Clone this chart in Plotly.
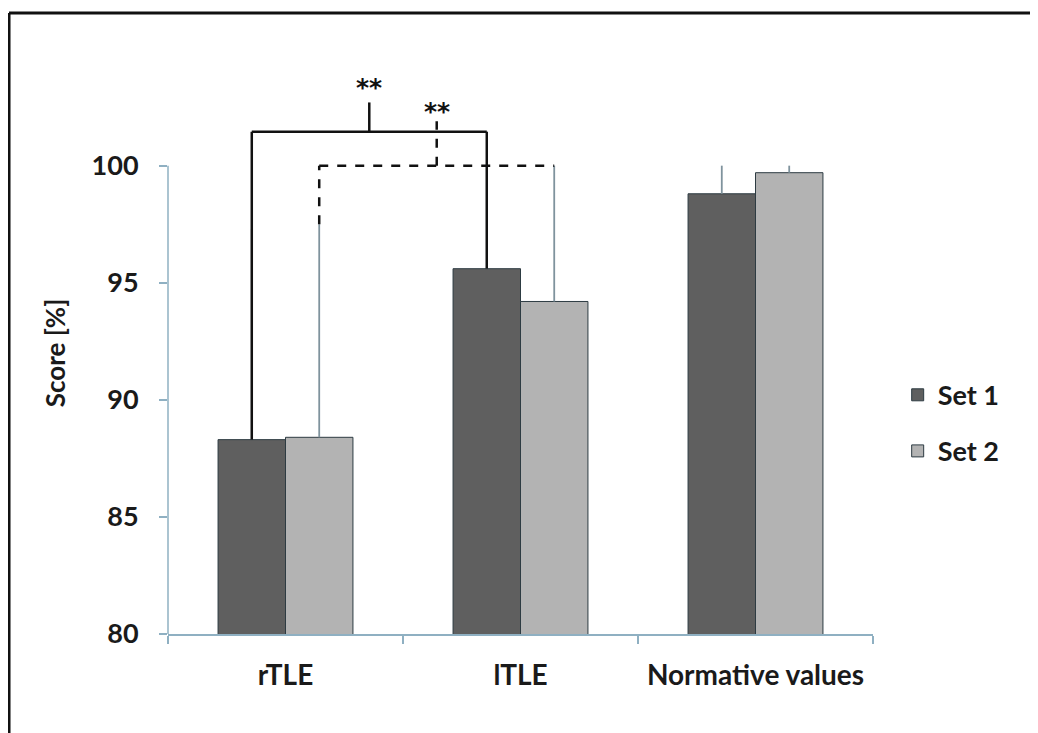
import plotly.graph_objects as go

categories = ["rTLE", "lTLE", "Normative values"]
set1_values = [88.3, 95.6, 98.8]
set2_values = [88.4, 94.2, 99.7]
set1_err = [9.0, 4.4, 1.2]
set2_err = [9.1, 5.8, 0.3]
y_ticks = [80, 85, 90, 95, 100]

# significance brackets (levels in score units)
solid_level = 101.45
solid_tick_top = 102.7
solid_star_y = 103.35
dashed_level = 100.0
dashed_tick_top = 101.9
dashed_star_y = 102.3

bargap = 0.426
bw = (1 - bargap) / 2
off1, off2 = -bw / 2, bw / 2

FONT = "Lato"
DARK1 = "#5f5f5f"
LIGHT2 = "#b3b3b3"
EDGE = "#2d3b42"
AXIS = "#8fb0c2"
ERR = "#7f939d"

fig = go.Figure()
fig.add_trace(go.Bar(
    name="Set 1", x=categories, y=set1_values, marker=dict(color=DARK1, line=dict(color=EDGE, width=1)),
    error_y=dict(type="data", array=set1_err, arrayminus=[0, 0, 0], symmetric=False, color=ERR, thickness=1.8, width=0),
    legendgroup="a"))
fig.add_trace(go.Bar(
    name="Set 2", x=categories, y=set2_values, marker=dict(color=LIGHT2, line=dict(color=EDGE, width=1)),
    error_y=dict(type="data", array=set2_err, arrayminus=[0, 0, 0], symmetric=False, color=ERR, thickness=1.8, width=0),
    legendgroup="b"))

shapes = []
# solid bracket rTLE set1 <-> lTLE set1
xa, xb = 0 + off1, 1 + off1
for x0, y0, x1, y1 in [(xa, set1_values[0], xa, solid_level), (xa, solid_level, xb, solid_level),
                       (xb, solid_level, xb, set1_values[1]),
                       ((xa + xb) / 2, solid_level, (xa + xb) / 2, solid_tick_top)]:
    shapes.append(dict(type="line", xref="x", yref="y", x0=x0, y0=y0, x1=x1, y1=y1,
                       line=dict(color="#111111", width=2.5)))
# dashed bracket rTLE set2 <-> lTLE set2
xc, xd = 0 + off2, 1 + off2
for x0, y0, x1, y1 in [(xc, set2_values[0] + set2_err[0], xc, dashed_level), (xc, dashed_level, xd, dashed_level),
                       ((xc + xd) / 2, dashed_level, (xc + xd) / 2, dashed_tick_top)]:
    shapes.append(dict(type="line", xref="x", yref="y", x0=x0, y0=y0, x1=x1, y1=y1,
                       line=dict(color="#111111", width=2.5, dash="dash")))
# y axis line 80..100
shapes.append(dict(type="line", xref="paper", yref="y", x0=0, x1=0, y0=y_ticks[0], y1=y_ticks[-1],
                   line=dict(color=AXIS, width=1.5)))
# figure frame (left and top)
shapes.append(dict(type="line", xref="paper", yref="paper", x0=-0.2255, x1=-0.2255, y0=1.105, y1=-0.2,
                   line=dict(color="#111111", width=3)))
shapes.append(dict(type="line", xref="paper", yref="paper", x0=-0.2255, x1=1.25, y0=1.105, y1=1.105,
                   line=dict(color="#111111", width=3)))

annotations = [
    dict(x=(xa + xb) / 2, y=solid_star_y, xref="x", yref="y", text="**", showarrow=False,
         font=dict(family="DejaVu Sans", size=25, color="#111111", weight="bold"), yanchor="middle"),
    dict(x=(xc + xd) / 2, y=dashed_star_y, xref="x", yref="y", text="**", showarrow=False,
         font=dict(family="DejaVu Sans", size=25, color="#111111", weight="bold"), yanchor="middle"),
]

fig.update_layout(
    width=1038, height=733,
    margin=dict(l=160, r=173, t=64, b=107),
    paper_bgcolor="white", plot_bgcolor="white",
    barmode="group", bargap=bargap, bargroupgap=0,
    font=dict(family=FONT, size=20, color="#1a1a1a"),
    shapes=shapes, annotations=annotations,
    legend=dict(x=1.035, y=0.375, xanchor="left", yanchor="middle", tracegroupgap=18,
                font=dict(family=FONT, size=27, color="#1a1a1a", weight="bold"), bgcolor="rgba(0,0,0,0)"),
    showlegend=True,
)
fig.update_xaxes(
    type="category", tickson="boundaries", ticks="outside", ticklen=8, tickcolor=AXIS, tickwidth=1.5,
    showline=True, linecolor=AXIS, linewidth=1.5, showgrid=False, zeroline=False, ticklabelstandoff=16,
    tickfont=dict(family=FONT, size=28, color="#1a1a1a", weight="bold"), range=[-0.5, 2.5],
)
fig.update_yaxes(
    range=[80, 104], tickvals=y_ticks, ticks="outside", ticklen=8, tickcolor=AXIS, tickwidth=1.5,
    showline=False, showgrid=False, zeroline=False, ticklabelstandoff=15,
    tickfont=dict(family=FONT, size=27, color="#1a1a1a", weight="bold"),
    title=dict(text="Score [%]", font=dict(family=FONT, size=26, color="#1a1a1a", weight="bold"), standoff=18),
)

fig.write_html("out.html")
